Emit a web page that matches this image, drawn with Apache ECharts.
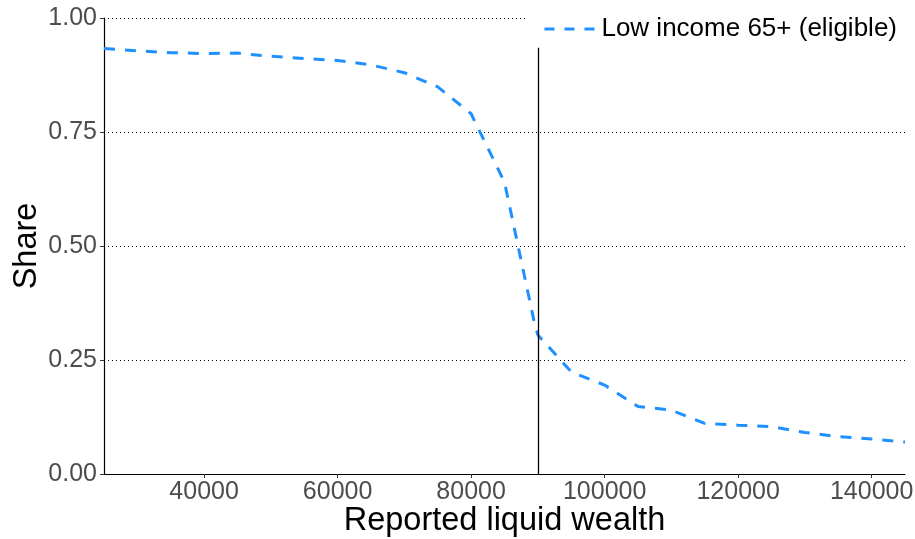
<!DOCTYPE html>
<html>
<head>
    <meta charset="utf-8">
    <title>Share by reported liquid wealth</title>
    <script src="https://cdn.jsdelivr.net/npm/echarts@6/dist/echarts.min.js"></script>
</head>
<body style="margin:0;background:#fff;">
<div id="main" style="width:915px;height:539px;"></div>
<script>
    // reported liquid wealth (x) and share of eligible low income 65+ (y)
    var wealth = [25000, 30000, 35000, 40000, 45000, 50000, 55000, 60000, 65000, 70000,
        75000, 80000, 85000, 89500, 90000, 95000, 100000, 105000, 110000, 115000,
        120000, 125000, 130000, 135000, 140000, 145000];
    var share = [0.933, 0.928, 0.924, 0.922, 0.923, 0.916, 0.911, 0.907, 0.897, 0.880,
        0.849, 0.790, 0.640, 0.330, 0.305, 0.224, 0.195, 0.148, 0.140, 0.111,
        0.107, 0.104, 0.091, 0.082, 0.077, 0.070];
    var xTicks = [40000, 60000, 80000, 100000, 120000, 140000];
    var yTicks = [0, 0.25, 0.5, 0.75, 1];
    var threshold = 90000;      // eligibility cut-off (vertical line)
    var thresholdTop = 0.935;
    var seriesName = 'Low income 65+ (eligible)';

    var font = 'Liberation Sans, Arial, sans-serif';
    var points = wealth.map(function (w, i) { return [w, share[i]]; });

    var myChart = echarts.init(document.getElementById('main'));
    var option = {
        animation: false,
        textStyle: { fontFamily: font },
        grid: { left: 104, right: 10, top: 18, bottom: 65, outerBoundsMode: 'none' },
        legend: {
            right: 10,
            top: 8,
            padding: [8, 8, 8, 15],
            backgroundColor: '#ffffff',
            itemWidth: 52,
            itemHeight: 24,
            itemStyle: { opacity: 0 },   // no marker, only the dashed line
            lineStyle: { type: [10, 10], width: 3 },
            textStyle: { color: '#000', fontSize: 26, fontFamily: font },
            data: [seriesName]
        },
        xAxis: {
            type: 'value',
            min: 25000,
            max: 145000,
            name: 'Reported liquid wealth',
            nameLocation: 'middle',
            nameGap: 31,
            nameMoveOverlap: false,
            nameTextStyle: { color: '#000', fontSize: 32.5, fontFamily: font },
            axisLine: { lineStyle: { color: '#000', width: 1.2 } },
            axisTick: { show: true, length: 4, customValues: xTicks, lineStyle: { color: '#333' } },
            axisLabel: {
                customValues: xTicks, color: '#4d4d4d', fontSize: 25, margin: 6, fontFamily: font,
                formatter: function (v) { return String(v); }
            },
            splitLine: { show: false }
        },
        yAxis: {
            type: 'value',
            min: 0,
            max: 1,
            interval: 0.25,
            name: 'Share',
            nameLocation: 'middle',
            nameGap: 60,
            nameMoveOverlap: false,
            nameTextStyle: { color: '#000', fontSize: 32.5, fontFamily: font },
            axisLine: { show: true, lineStyle: { color: '#000', width: 1.2 } },
            axisTick: { show: true, length: 4, customValues: yTicks, lineStyle: { color: '#333' } },
            axisLabel: {
                color: '#4d4d4d', fontSize: 25, margin: 7, fontFamily: font,
                formatter: function (v) { return v.toFixed(2); }
            },
            splitLine: { show: true, lineStyle: { color: '#000', type: [1, 3], width: 1 } }
        },
        series: [
            {
                name: seriesName,
                type: 'line',
                data: points,
                symbol: 'none',
                color: '#1E90FF',
                lineStyle: { color: '#1E90FF', width: 3, type: [11, 10] },
                markLine: {
                    silent: true,
                    symbol: 'none',
                    label: { show: false },
                    lineStyle: { color: '#000', type: 'solid', width: 1.3 },
                    data: [[{ coord: [threshold, 0] }, { coord: [threshold, thresholdTop] }]]
                },
                z: 3
            }
        ]
    };
    myChart.setOption(option);
</script>
</body>
</html>
